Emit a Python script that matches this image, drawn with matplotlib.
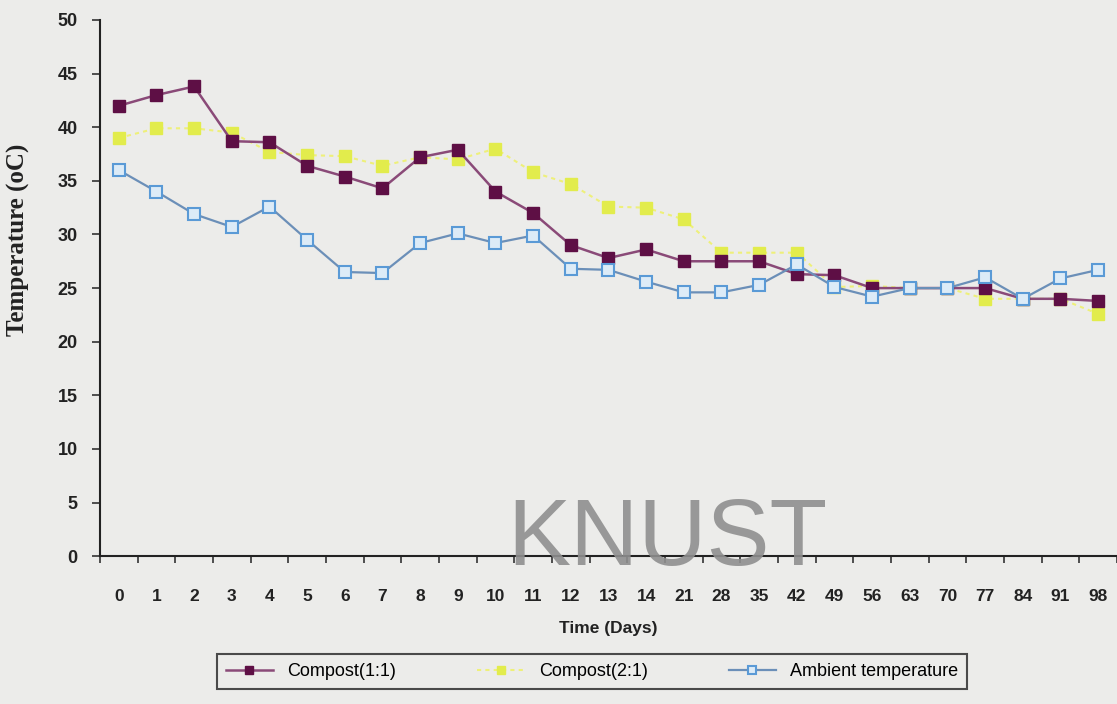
import matplotlib
matplotlib.use("Agg")
import matplotlib.pyplot as plt
import numpy as np

days = ["0", "1", "2", "3", "4", "5", "6", "7", "8", "9", "10", "11", "12", "13", "14",
        "21", "28", "35", "42", "49", "56", "63", "70", "77", "84", "91", "98"]
compost_1_1 = [42, 43, 43.8, 38.7, 38.6, 36.4, 35.4, 34.3, 37.2, 37.9, 34, 32, 29, 27.8, 28.6,
               27.5, 27.5, 27.5, 26.3, 26.2, 25, 25, 25, 25, 24, 24, 23.8]
compost_2_1 = [39, 39.9, 39.9, 39.5, 37.7, 37.4, 37.3, 36.4, 37.2, 37, 38, 35.8, 34.7, 32.6, 32.5,
               31.4, 28.3, 28.3, 28.3, 25.1, 25.2, 25, 25, 24, 24, 24, 22.6]
ambient = [36, 34, 31.9, 30.7, 32.6, 29.5, 26.5, 26.4, 29.2, 30.1, 29.2, 29.9, 26.8, 26.7, 25.6,
           24.6, 24.6, 25.3, 27.2, 25.1, 24.2, 25, 25, 26, 24, 25.9, 26.7]
y_ticks = [0, 5, 10, 15, 20, 25, 30, 35, 40, 45, 50]

bg = "#ececea"
fig = plt.figure(figsize=(11.17, 7.04), dpi=100, facecolor=bg)
ax = fig.add_axes([0.0895, 0.21, 0.9105, 0.7616], facecolor=bg)

fig.text(0.597, 0.197, "KNUST", fontsize=68, color="#8f8f8f", ha="center", va="baseline",
         family="Liberation Sans", alpha=0.9, zorder=0)
ax.patch.set_alpha(0)

x = np.arange(len(days))
ax.plot(x, compost_1_1, color="#8a4a78", lw=1.8, marker="s", ms=9,
        mfc="#5e0f45", mec="#5e0f45", label="Compost(1:1)", zorder=4)
ax.plot(x, compost_2_1, color="#eef07a", lw=1.5, ls=(0, (2, 2)), marker="s", ms=9,
        mfc="#e2ec4c", mec="#e2ec4c", label="Compost(2:1)", zorder=3)
ax.plot(x, ambient, color="#6b8fb8", lw=1.6, marker="s", ms=9,
        mfc="#dcebf7", mec="#5a9ad6", mew=1.5, label="Ambient temperature", zorder=5)

ax.set_xlim(-0.5, len(days) - 0.5)
ax.set_ylim(0, 50)
ax.set_yticks(y_ticks)
ax.set_yticklabels([str(t) for t in y_ticks], fontsize=13, family="Liberation Sans",
                   fontweight="bold", color="#222222")
ax.set_xticks(x)
ax.set_xticklabels(days, fontsize=12.5, family="Liberation Sans", fontweight="bold", color="#222222")
ax.set_xticks(np.arange(-0.5, len(days), 1), minor=True)
ax.tick_params(axis="x", which="major", length=0, pad=24)
ax.tick_params(axis="x", which="minor", length=5, width=1.2, color="#333333")
ax.tick_params(axis="y", length=6, width=1.2, color="#333333", pad=10)
for s in ["top", "right"]:
    ax.spines[s].set_visible(False)
for s in ["left", "bottom"]:
    ax.spines[s].set_linewidth(1.5)
    ax.spines[s].set_color("#222222")

ax.set_xlabel("Time (Days)", fontsize=12.5, family="Liberation Sans", fontweight="bold",
              color="#222222", labelpad=12)
ax.set_ylabel("Temperature (oC)", fontsize=18, family="Liberation Serif", fontweight="bold",
              color="#222222")
ax.yaxis.set_label_coords(-0.069, 0.59)

leg = fig.legend(loc="center", bbox_to_anchor=(0.53, 0.046), ncol=3, frameon=True,
                 fancybox=False, edgecolor="#222222", facecolor=bg, handlelength=2.6,
                 columnspacing=4.5, borderpad=0.5,
                 prop={"family": "Liberation Sans", "size": 13})
leg.get_frame().set_linewidth(1.5)
for h in leg.legend_handles:
    h.set_markersize(6)

fig.savefig("out.png", dpi=100, facecolor=bg)
